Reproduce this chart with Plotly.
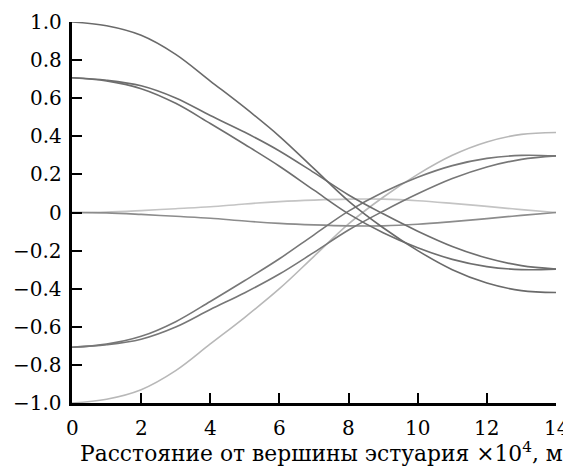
import plotly.graph_objects as go

# Distance from estuary head (x10^4 m)
x = [0, 1, 2, 3, 4, 5, 6, 7, 8, 9, 10, 11, 12, 13, 14]

# Curves (start value at x=0 -> end value at x=14)
c_p100 = [1.00, 0.98, 0.93, 0.83, 0.69, 0.55, 0.40, 0.23, 0.06, -0.08, -0.20, -0.30, -0.37, -0.41, -0.42]
c_p71a = [0.707, 0.694, 0.665, 0.601, 0.509, 0.421, 0.323, 0.209, 0.092, -0.007, -0.098, -0.178, -0.239, -0.279, -0.297]
c_p71b = [0.707, 0.691, 0.650, 0.573, 0.467, 0.357, 0.243, 0.117, -0.007, -0.106, -0.185, -0.246, -0.284, -0.300, -0.297]
c_0up = [0.0, 0.002, 0.010, 0.020, 0.030, 0.045, 0.057, 0.065, 0.070, 0.070, 0.062, 0.048, 0.032, 0.015, 0.0]
c_0dn = [0.0, -0.002, -0.010, -0.020, -0.030, -0.045, -0.057, -0.065, -0.070, -0.070, -0.062, -0.048, -0.032, -0.015, 0.0]
c_m71a = [-0.707, -0.691, -0.650, -0.573, -0.467, -0.357, -0.243, -0.117, 0.007, 0.106, 0.185, 0.246, 0.284, 0.300, 0.297]
c_m71b = [-0.707, -0.694, -0.665, -0.601, -0.509, -0.421, -0.323, -0.209, -0.092, 0.007, 0.098, 0.178, 0.239, 0.279, 0.297]
c_m100 = [-1.00, -0.98, -0.93, -0.83, -0.69, -0.55, -0.40, -0.23, -0.06, 0.08, 0.20, 0.30, 0.37, 0.41, 0.42]

series = [
    (c_0up, "#c4c4c4"),
    (c_m100, "#b8b8b8"),
    (c_0dn, "#8c8c8c"),
    (c_m71a, "#777777"),
    (c_m71b, "#777777"),
    (c_p71a, "#6e6e6e"),
    (c_p71b, "#6e6e6e"),
    (c_p100, "#6a6a6a"),
]

y_tickvals = [1.0, 0.8, 0.6, 0.4, 0.2, 0, -0.2, -0.4, -0.6, -0.8, -1.0]
y_ticktext = ["1.0", "0.8", "0.6", "0.4", "0.2", "0", "\u22120.2", "\u22120.4", "\u22120.6", "\u22120.8", "\u22121.0"]
x_tickvals = [0, 2, 4, 6, 8, 10, 12, 14]
x_ticktext = ["0", "2", "4", "6", "8", "10", "12", "14"]
x_title = "Расстояние от вершины эстуария ×10<sup>4</sup>, м"

fig = go.Figure()
for ys, col in series:
    fig.add_trace(go.Scatter(x=x, y=ys, mode="lines", line=dict(color=col, width=1.6, shape="spline"),
                             showlegend=False, hoverinfo="skip"))

SERIF = "DejaVu Serif"
FS = 20

fig.update_layout(
    template="none",
    width=563, height=458,
    margin=dict(l=64, r=15, t=14, b=63, autoexpand=False),
    paper_bgcolor="white", plot_bgcolor="white",
    font=dict(family=SERIF, size=FS, color="black"),
)
fig.update_xaxes(range=[0, 14], tickmode="array", tickvals=x_tickvals, showticklabels=False,
                 ticks="inside", ticklen=10, tickwidth=2,
                 tickcolor="black", showline=True, linecolor="black", linewidth=2.5,
                 showgrid=False, zeroline=False, automargin=False)
fig.update_yaxes(range=[-1, 1], tickmode="array", tickvals=y_tickvals, showticklabels=False,
                 ticks="inside", ticklen=10,
                 tickwidth=2, tickcolor="black", showline=True, linecolor="black", linewidth=2.5,
                 showgrid=False, zeroline=False, automargin=False)

# tick labels as text placed through the axes' data coordinates
for v, t in zip(y_tickvals, y_ticktext):
    fig.add_annotation(text=t, xref="paper", yref="y", x=0, y=v, xanchor="right", yanchor="middle",
                       xshift=-8, showarrow=False,
                       font=dict(family=SERIF, size=FS, color="black"))
for v, t in zip(x_tickvals, x_ticktext):
    fig.add_annotation(text=t, xref="x", yref="paper", x=v, y=0, xanchor="center", yanchor="middle",
                       yshift=-25, showarrow=False,
                       font=dict(family=SERIF, size=FS, color="black"))

fig.add_annotation(text=x_title, xref="paper", yref="paper",
                   x=1.019, y=0, xanchor="right", yanchor="middle", yshift=-49, showarrow=False,
                   font=dict(family=SERIF, size=21.8, color="black"))

fig.write_html("out.html")
